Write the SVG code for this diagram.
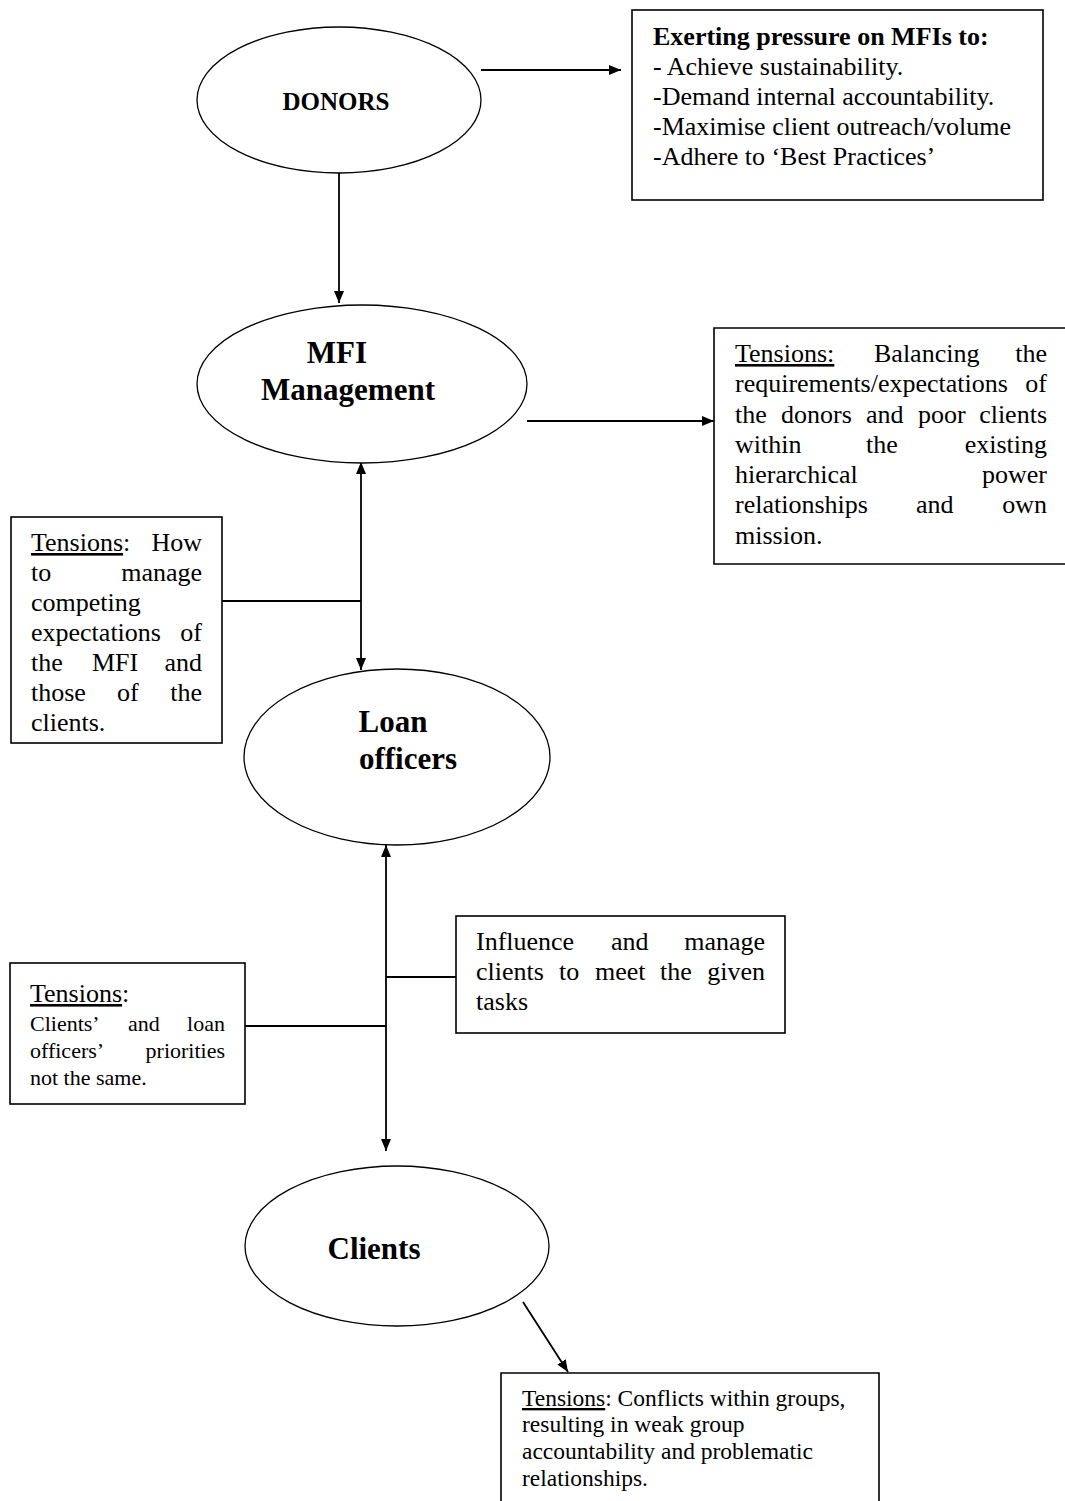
<svg xmlns="http://www.w3.org/2000/svg" width="1065" height="1501" viewBox="0 0 1065 1501">
<defs>
<style>
text{font-family:"Liberation Serif","Times New Roman",serif;fill:#000}
.t{font-size:26px}
.s{font-size:22px}
.m{font-size:23.5px}
.b{font-weight:bold}
.lbl{font-weight:bold;font-size:31px;text-anchor:middle}
.u{text-decoration:underline}
.node{fill:#fff;stroke:#000;stroke-width:1.3}
.box{fill:#fff;stroke:#000;stroke-width:1.6}
.ln{fill:none;stroke:#000;stroke-width:1.8}
</style>
<marker id="ah" viewBox="0 0 12 10" refX="12" refY="5" markerWidth="12" markerHeight="10" markerUnits="userSpaceOnUse" orient="auto-start-reverse">
<path d="M0,0 L12,5 L0,10 Z" fill="#000"/>
</marker>
</defs>
<rect width="1065" height="1501" fill="#fff"/>

<g id="connectors">
<line class="ln" x1="481" y1="70" x2="621" y2="70" marker-end="url(#ah)"/>
<line class="ln" x1="339" y1="173" x2="339" y2="303" marker-end="url(#ah)"/>
<line class="ln" x1="527" y1="421" x2="714" y2="421" marker-end="url(#ah)"/>
<line class="ln" x1="361" y1="462" x2="361" y2="670" marker-start="url(#ah)" marker-end="url(#ah)"/>
<line class="ln" x1="222" y1="601" x2="361" y2="601"/>
<line class="ln" x1="386" y1="845" x2="386" y2="1151" marker-start="url(#ah)" marker-end="url(#ah)"/>
<line class="ln" x1="386" y1="977" x2="456" y2="977"/>
<line class="ln" x1="245" y1="1026" x2="386" y2="1026"/>
<line class="ln" x1="523" y1="1302" x2="568" y2="1372" marker-end="url(#ah)"/>
</g>

<g id="donors">
<ellipse class="node" cx="339" cy="100" rx="142" ry="73"/>
<text class="b" x="336" y="110" font-size="25" text-anchor="middle">DONORS</text>
</g>

<g id="pressure-box">
<rect class="box" x="632" y="10" width="411" height="190"/>
<text class="t b" x="653" y="45">Exerting pressure on MFIs to:</text>
<text class="t" x="653" y="75">- Achieve sustainability.</text>
<text class="t" x="653" y="105">-Demand internal accountability.</text>
<text class="t" x="653" y="135">-Maximise client outreach/volume</text>
<text class="t" x="653" y="165">-Adhere to ‘Best Practices’</text>
</g>

<g id="mfi-management">
<ellipse class="node" cx="362" cy="384" rx="165" ry="79"/>
<text class="lbl" x="337" y="363">MFI</text>
<text class="lbl" x="348" y="400">Management</text>
</g>

<g id="mfi-tensions-box">
<path class="box" d="M1065,328 H714 V564 H1065"/>
<text class="t"><tspan class="u" x="735" y="362">Tensions:</tspan><tspan x="874" y="362">Balancing</tspan><tspan x="1047" y="362" text-anchor="end">the</tspan></text>
<text class="t"><tspan x="735" y="392">requirements/expectations</tspan><tspan x="1047" y="392" text-anchor="end">of</tspan></text>
<text class="t"><tspan x="735" y="423">the</tspan><tspan x="781" y="423">donors</tspan><tspan x="866" y="423">and</tspan><tspan x="918" y="423">poor</tspan><tspan x="1047" y="423" text-anchor="end">clients</tspan></text>
<text class="t"><tspan x="735" y="453">within</tspan><tspan x="866" y="453">the</tspan><tspan x="1047" y="453" text-anchor="end">existing</tspan></text>
<text class="t"><tspan x="735" y="483">hierarchical</tspan><tspan x="1047" y="483" text-anchor="end">power</tspan></text>
<text class="t"><tspan x="735" y="513">relationships</tspan><tspan x="916" y="513">and</tspan><tspan x="1047" y="513" text-anchor="end">own</tspan></text>
<text class="t" x="735" y="544">mission.</text>
</g>

<g id="lo-tensions-box">
<rect class="box" x="11" y="517" width="211" height="226"/>
<text class="t"><tspan class="u" x="31" y="551">Tensions</tspan><tspan>:</tspan><tspan x="202" y="551" text-anchor="end">How</tspan></text>
<text class="t"><tspan x="31" y="581">to</tspan><tspan x="202" y="581" text-anchor="end">manage</tspan></text>
<text class="t" x="31" y="611">competing</text>
<text class="t"><tspan x="31" y="641">expectations</tspan><tspan x="202" y="641" text-anchor="end">of</tspan></text>
<text class="t"><tspan x="31" y="671">the</tspan><tspan x="92" y="671">MFI</tspan><tspan x="202" y="671" text-anchor="end">and</tspan></text>
<text class="t"><tspan x="31" y="701">those</tspan><tspan x="117" y="701">of</tspan><tspan x="202" y="701" text-anchor="end">the</tspan></text>
<text class="t" x="31" y="731">clients.</text>
</g>

<g id="loan-officers">
<ellipse class="node" cx="397" cy="757" rx="153" ry="88"/>
<text class="lbl" x="393" y="732">Loan</text>
<text class="lbl" x="408" y="769">officers</text>
</g>

<g id="influence-box">
<rect class="box" x="456" y="916" width="329" height="117"/>
<text class="t"><tspan x="476" y="950">Influence</tspan><tspan x="611" y="950">and</tspan><tspan x="765" y="950" text-anchor="end">manage</tspan></text>
<text class="t"><tspan x="476" y="980">clients</tspan><tspan x="559" y="980">to</tspan><tspan x="595" y="980">meet</tspan><tspan x="660" y="980">the</tspan><tspan x="765" y="980" text-anchor="end">given</tspan></text>
<text class="t" x="476" y="1010">tasks</text>
</g>

<g id="client-tensions-box">
<rect class="box" x="10" y="963" width="235" height="141"/>
<text class="t"><tspan class="u" x="30" y="1002">Tensions</tspan><tspan>:</tspan></text>
<text class="s"><tspan x="30" y="1031">Clients’</tspan><tspan x="128" y="1031">and</tspan><tspan x="225" y="1031" text-anchor="end">loan</tspan></text>
<text class="s"><tspan x="30" y="1058">officers’</tspan><tspan x="225" y="1058" text-anchor="end">priorities</tspan></text>
<text class="s" x="30" y="1085">not the same.</text>
</g>

<g id="clients">
<ellipse class="node" cx="397" cy="1246" rx="152" ry="80"/>
<text class="lbl" x="374" y="1259">Clients</text>
</g>

<g id="group-tensions-box">
<path class="box" d="M501,1501 V1373 H879 V1501"/>
<text class="m"><tspan class="u" x="522" y="1406">Tensions</tspan><tspan>: Conflicts within groups,</tspan></text>
<text class="m" x="522" y="1432">resulting in weak group</text>
<text class="m" x="522" y="1459">accountability and problematic</text>
<text class="m" x="522" y="1486">relationships.</text>
</g>
</svg>
